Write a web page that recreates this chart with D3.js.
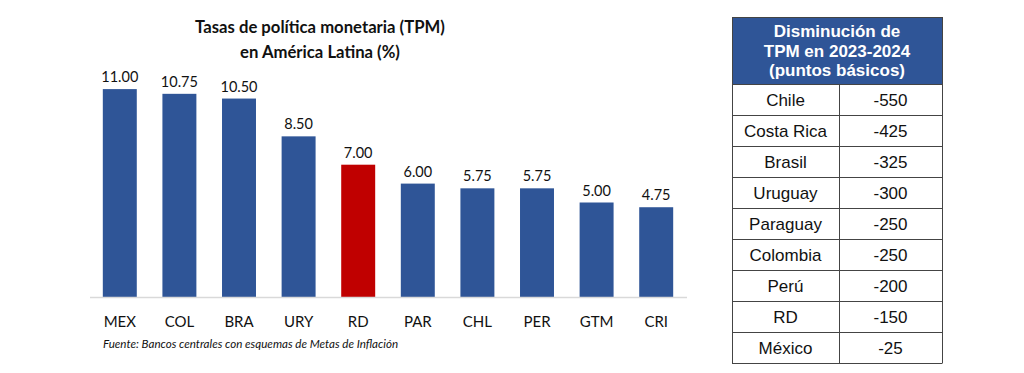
<!DOCTYPE html>
<meta charset="utf-8">
<head>
<script src="https://d3js.org/d3.v7.min.js"></script>
<style>
body { margin: 0; background: #fff; }
svg { display: block; }
.lbl { font-family: Lato, "Open Sans", sans-serif; fill: #111; }
.tbl { font-family: "Liberation Sans", Arial, sans-serif; }
</style>
</head>
<body>
<div id="chart"></div>

<script>
// bar chart data
var countries = ["MEX", "COL", "BRA", "URY", "RD", "PAR", "CHL", "PER", "GTM", "CRI"];
var rates = [11.00, 10.75, 10.50, 8.50, 7.00, 6.00, 5.75, 5.75, 5.00, 4.75];
var highlight = "RD";

// table data
var tableHeader = ["Disminución de", "TPM en 2023-2024", "(puntos básicos)"];
var tableCountries = ["Chile", "Costa Rica", "Brasil", "Uruguay", "Paraguay", "Colombia", "Perú", "RD", "México"];
var tableValues = [-550, -425, -325, -300, -250, -250, -200, -150, -25];

var svg = d3.select("#chart").append("svg")
    .attr("width", 1024)
    .attr("height", 373);

svg.append("rect").attr("width", 1024).attr("height", 373).attr("fill", "#fff");

// title
var title = svg.append("text")
    .attr("class", "lbl")
    .attr("text-anchor", "middle")
    .attr("font-weight", "bold")
    .attr("font-size", 16.7);
title.append("tspan").attr("x", 320).attr("y", 33).text("Tasas de política monetaria (TPM)");
title.append("tspan").attr("x", 320).attr("y", 58).text("en América Latina (%)");

var x = d3.scaleBand()
    .domain(countries)
    .range([90, 686])
    .paddingInner(0.43)
    .paddingOuter(0.215);

var y = d3.scaleLinear()
    .domain([0, 12])
    .range([297, 70.2]);

var data = countries.map(function(c, i) { return {c: c, v: rates[i]}; });

svg.selectAll("rect.bar")
    .data(data)
    .enter().append("rect")
    .attr("class", "bar")
    .attr("x", function(d) { return x(d.c); })
    .attr("y", function(d) { return y(d.v); })
    .attr("width", x.bandwidth())
    .attr("height", function(d) { return y(0) - y(d.v); })
    .attr("fill", function(d) { return d.c == highlight ? "#C00000" : "#2F5597"; });

// baseline
svg.append("line")
    .attr("x1", 90).attr("x2", 687)
    .attr("y1", y(0) + 0.5).attr("y2", y(0) + 0.5)
    .attr("stroke", "#D9D9D9")
    .attr("stroke-width", 1.5);

// value labels
svg.selectAll("text.val")
    .data(data)
    .enter().append("text")
    .attr("class", "lbl val")
    .attr("text-anchor", "middle")
    .attr("font-size", 14.5)
    .attr("x", function(d) { return x(d.c) + x.bandwidth() / 2; })
    .attr("y", function(d) { return y(d.v) - 7; })
    .text(function(d) { return d3.format(".2f")(d.v); });

// category labels
var xAxis = svg.append("g")
    .attr("transform", "translate(0," + y(0) + ")")
    .call(d3.axisBottom(x).tickSize(0).tickPadding(0));
xAxis.select(".domain").remove();
xAxis.selectAll("text")
    .attr("class", "lbl")
    .attr("font-size", 15)
    .attr("dy", 0)
    .attr("y", 30)
    .style("fill", "#111");

// source note
svg.append("text")
    .attr("class", "lbl")
    .attr("x", 103)
    .attr("y", 348)
    .attr("font-size", 11.6)
    .attr("font-style", "italic")
    .text("Fuente: Bancos centrales con esquemas de Metas de Inflación");

// table
var tx0 = 732, tx1 = 839, tx2 = 942;
var headTop = 17, headBottom = 84, rowH = 31;

var tbl = svg.append("g").attr("class", "tbl");

tbl.append("rect")
    .attr("x", tx0).attr("y", headTop)
    .attr("width", tx2 - tx0).attr("height", headBottom - headTop)
    .attr("fill", "#2F5597");

tbl.selectAll("text.head")
    .data(tableHeader)
    .enter().append("text")
    .attr("class", "head")
    .attr("x", (tx0 + tx2) / 2)
    .attr("y", function(d, i) { return 37 + i * 19.5; })
    .attr("text-anchor", "middle")
    .attr("font-weight", "bold")
    .attr("font-size", 17)
    .attr("fill", "#fff")
    .text(function(d) { return d; });

var rows = tbl.selectAll("g.row")
    .data(tableCountries)
    .enter().append("g")
    .attr("class", "row")
    .attr("transform", function(d, i) { return "translate(0," + (headBottom + i * rowH) + ")"; });

rows.append("text")
    .attr("x", (tx0 + tx1) / 2)
    .attr("y", 21.5)
    .attr("text-anchor", "middle")
    .attr("font-size", 17)
    .attr("fill", "#111")
    .text(function(d) { return d; });

rows.append("text")
    .attr("x", (tx1 + tx2) / 2)
    .attr("y", 21.5)
    .attr("text-anchor", "middle")
    .attr("font-size", 17)
    .attr("fill", "#111")
    .text(function(d, i) { return tableValues[i]; });

// grid lines
var bottom = headBottom + tableCountries.length * rowH;
var hLines = d3.range(tableCountries.length + 1).map(function(i) { return headBottom + i * rowH; });

tbl.selectAll("line.h")
    .data(hLines)
    .enter().append("line")
    .attr("x1", tx0).attr("x2", tx2)
    .attr("y1", function(d) { return d + 0.5; })
    .attr("y2", function(d) { return d + 0.5; })
    .attr("stroke", "#444");

tbl.selectAll("line.v")
    .data([tx0, tx1, tx2])
    .enter().append("line")
    .attr("x1", function(d) { return d + 0.5; })
    .attr("x2", function(d) { return d + 0.5; })
    .attr("y1", function(d) { return d == tx1 ? headBottom : headTop; })
    .attr("y2", bottom + 0.5)
    .attr("stroke", "#444");

tbl.append("line")
    .attr("x1", tx0).attr("x2", tx2 + 1)
    .attr("y1", headTop + 0.5).attr("y2", headTop + 0.5)
    .attr("stroke", "#444");
</script>
</body>
